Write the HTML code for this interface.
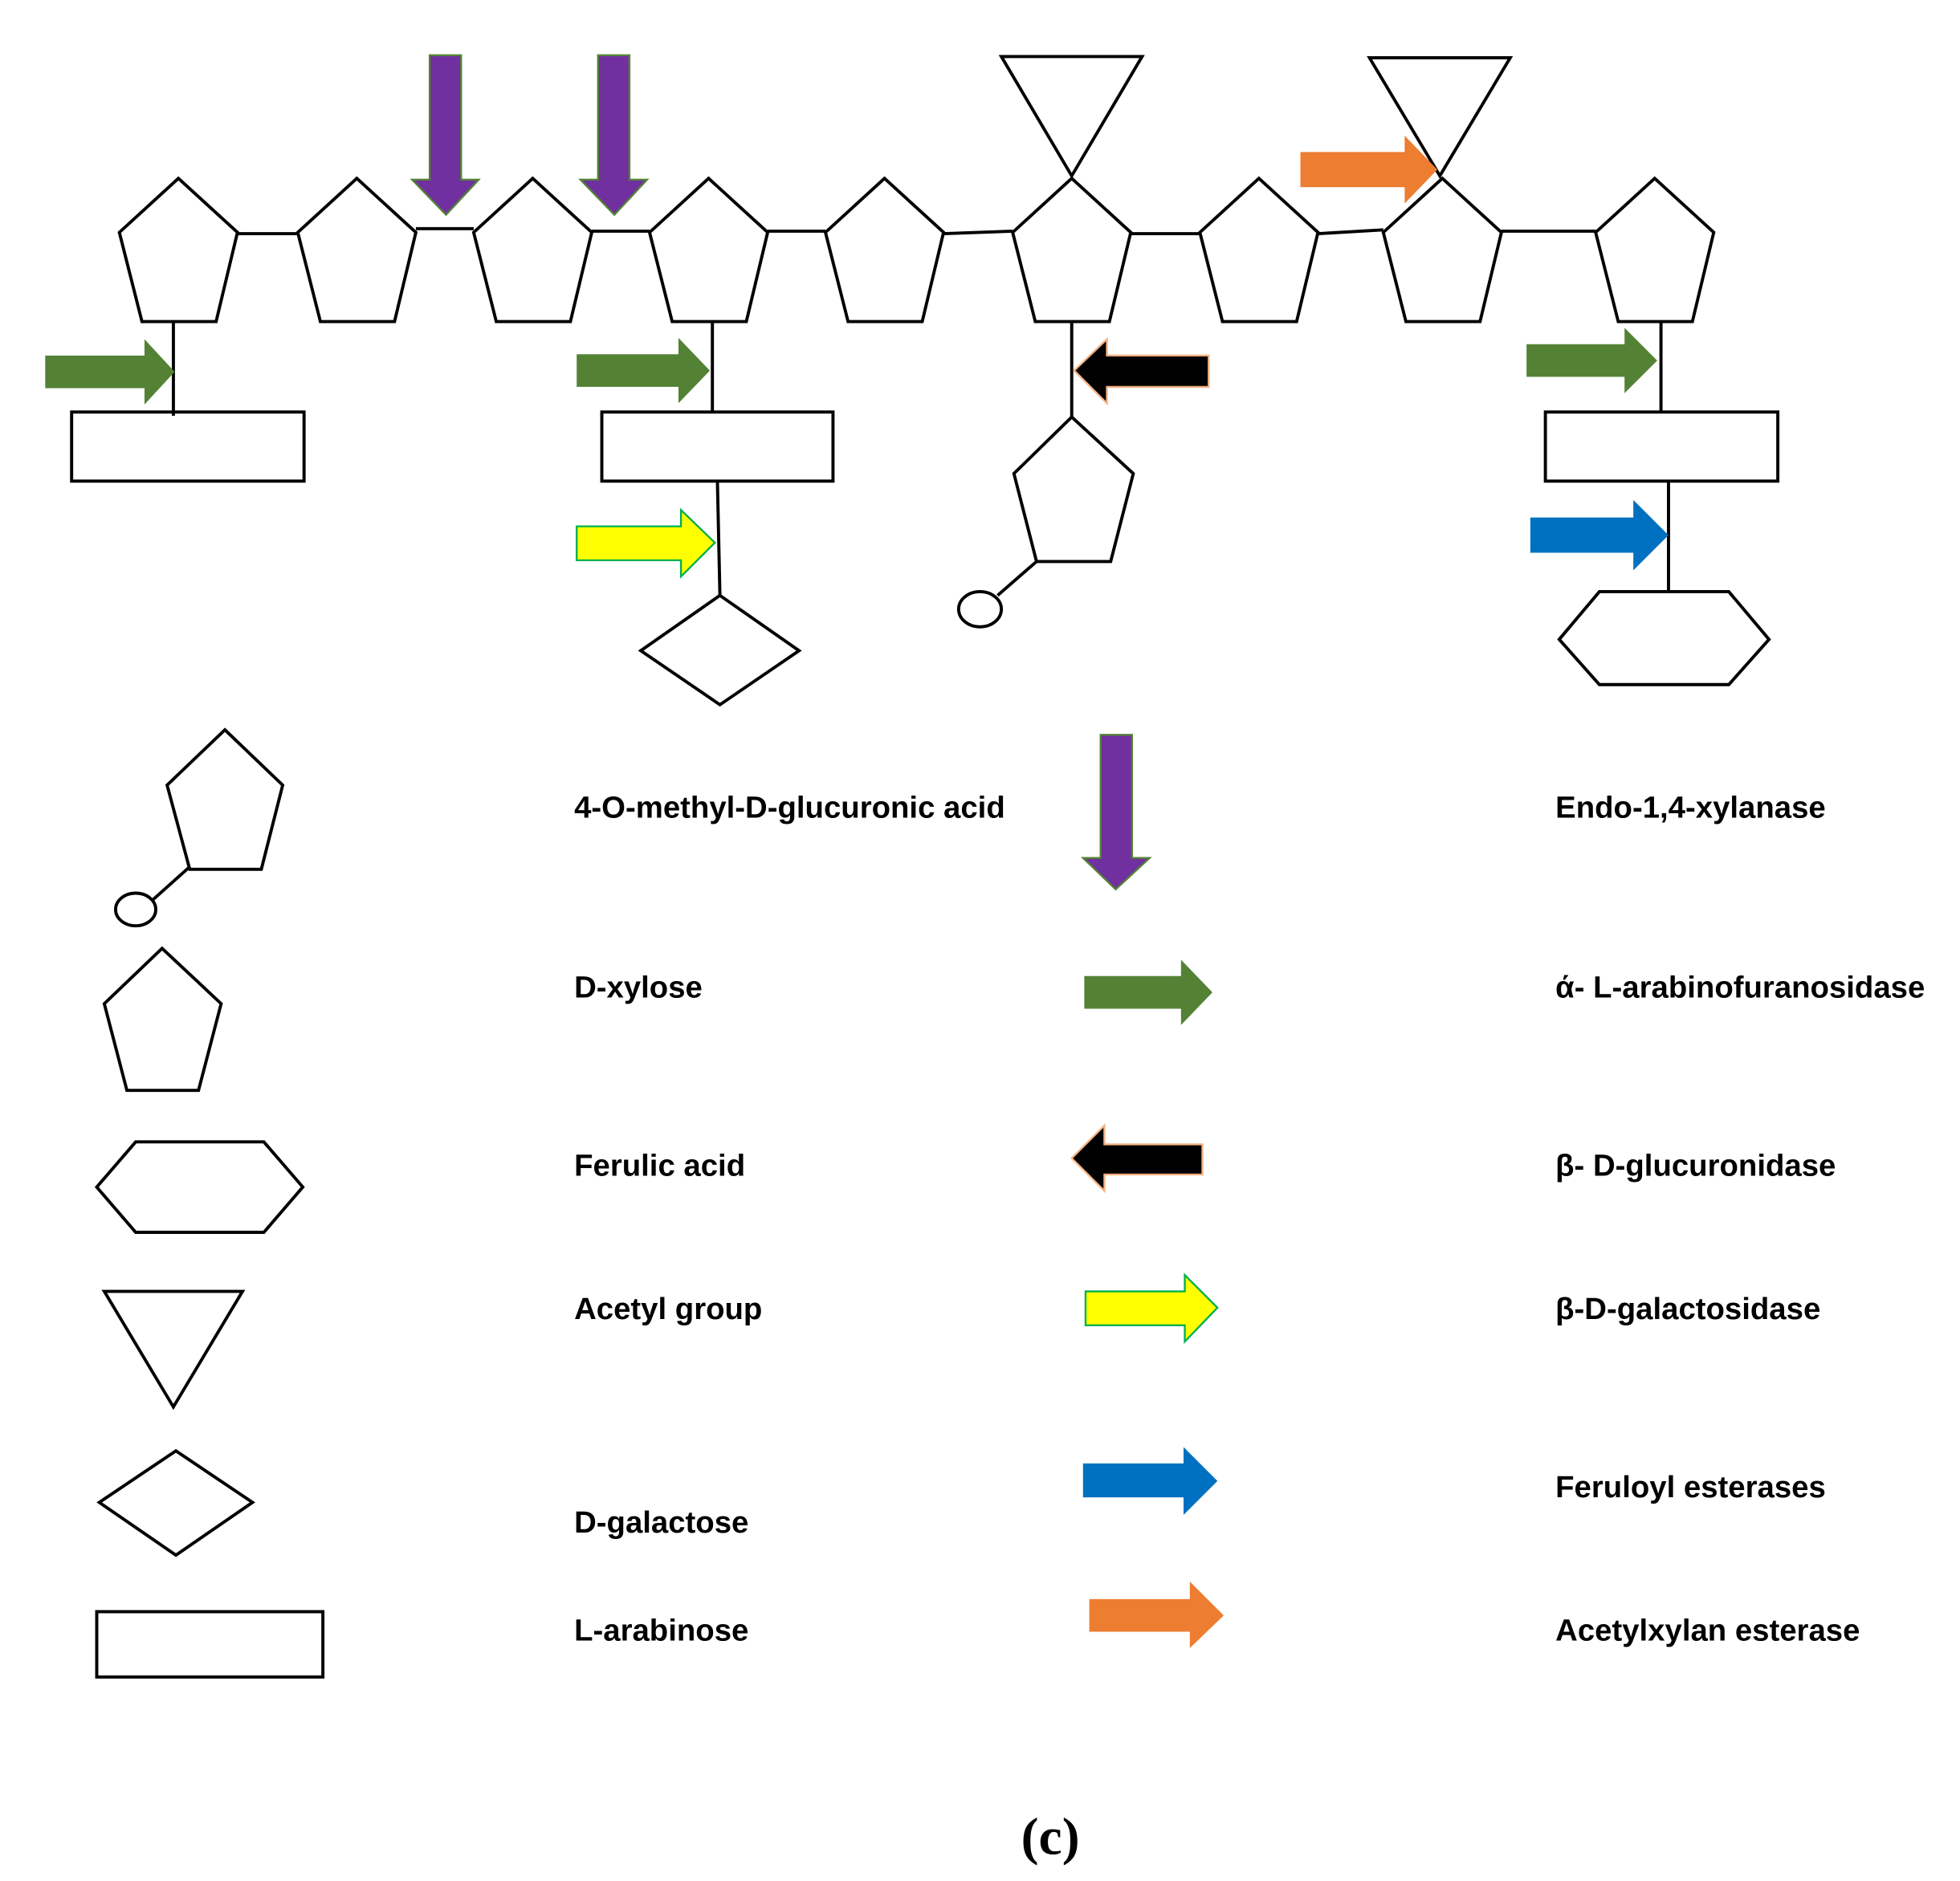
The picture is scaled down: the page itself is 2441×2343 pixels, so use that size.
<!DOCTYPE html>
<html><head><meta charset="utf-8"><style>html,body{margin:0;padding:0;background:#fff}svg{display:block}</style></head>
<body>
<svg width="2441" height="2343" viewBox="0 0 1560 1497.4" preserveAspectRatio="none" xmlns="http://www.w3.org/2000/svg">
<g fill="none" stroke="#000" stroke-width="2.5" stroke-linejoin="miter">
<polyline points="189,186 237,186"/>
<polyline points="331,182 377,182"/>
<polyline points="471,184 517,184"/>
<polyline points="611,184 657,184"/>
<polyline points="751,186 806,184"/>
<polyline points="900,186 955,186"/>
<polyline points="1049,186 1101,183"/>
<polyline points="1195,184 1270,184"/>
<polygon points="142,142 189,185 172,256 113,256 95,185"/>
<polygon points="284,142 331,185 314,256 255,256 237,185"/>
<polygon points="424,142 471,185 454,256 395,256 377,185"/>
<polygon points="564,142 611,185 594,256 535,256 517,185"/>
<polygon points="704,142 751,185 734,256 675,256 657,185"/>
<polygon points="853,142 900,185 883,256 824,256 806,185"/>
<polygon points="1002,142 1049,185 1032,256 973,256 955,185"/>
<polygon points="1148,142 1195,185 1178,256 1119,256 1101,185"/>
<polygon points="1317,142 1364,185 1347,256 1288,256 1270,185"/>
<polygon points="797,45 909,45 853,140"/>
<polygon points="1090,46 1202,46 1146,140"/>
<line x1="138" y1="256" x2="138" y2="331"/>
<line x1="567" y1="256" x2="567" y2="328"/>
<line x1="853" y1="256" x2="853" y2="332"/>
<line x1="1322" y1="256" x2="1322" y2="328"/>
<rect x="57" y="328" width="185" height="55"/>
<rect x="479" y="328" width="184" height="55"/>
<rect x="1230" y="328" width="185" height="55"/>
<line x1="571" y1="383" x2="573" y2="474"/>
<polygon points="573,474 636,518 573,561 510,518"/>
<polygon points="853,332 902,377 884,447 825,447 807,377"/>
<line x1="825" y1="447" x2="794" y2="474"/>
<ellipse cx="780" cy="485" rx="17" ry="14"/>
<line x1="1328" y1="383" x2="1328" y2="471"/>
<polygon points="1241,509 1273,471 1376,471 1408,509 1376,545 1273,545"/>
<polygon points="179,581 225,625 208,692 151,692 133,625"/>
<line x1="151" y1="690" x2="122" y2="716"/>
<ellipse cx="108" cy="724" rx="16" ry="13"/>
<polygon points="129,755 176,799 158,868 101,868 83,799"/>
<polygon points="77,945 108,909 210,909 241,945 210,981 108,981"/>
<polygon points="83,1028 193,1028 138,1120"/>
<polygon points="140,1155 201,1196 140,1238 79,1196"/>
<rect x="77" y="1283" width="180" height="52"/>
</g>
<g>
<polygon fill="#7030a0" stroke="#548235" stroke-width="1.5" points="342,44 367,44 367,143 381,143 355,171 328,143 342,143"/>
<polygon fill="#7030a0" stroke="#548235" stroke-width="1.5" points="476,44 501,44 501,143 515,143 489,171 462,143 476,143"/>
<polygon fill="#548235" points="36,283 115,283 115,270 139,296 115,322 115,309 36,309"/>
<polygon fill="#548235" points="459,282 540,282 540,269 565,295 540,321 540,308 459,308"/>
<polygon fill="#548235" points="1215,274 1293,274 1293,261 1319,287 1293,313 1293,300 1215,300"/>
<polygon fill="#000" stroke="#f4b183" stroke-width="1.5" points="855,295 881,270 881,283 962,283 962,308 881,308 881,321"/>
<polygon fill="#ffff00" stroke="#00b050" stroke-width="1.5" points="459,419 542,419 542,406 569,432 542,459 542,446 459,446"/>
<polygon fill="#0070c0" points="1218,412 1300,412 1300,398 1328,426 1300,454 1300,440 1218,440"/>
<polygon fill="#ed7d31" points="1035,121 1118,121 1118,108 1144,135 1118,162 1118,149 1035,149"/>
<polygon fill="#7030a0" stroke="#548235" stroke-width="1.5" points="876,585 901,585 901,683 915,683 888,708 862,683 876,683"/>
<polygon fill="#548235" points="863,777 940,777 940,764 965,790 940,816 940,803 863,803"/>
<polygon fill="#000" stroke="#f4b183" stroke-width="1.5" points="853,922 879,896 879,911 957,911 957,935 879,935 879,948"/>
<polygon fill="#ffff00" stroke="#00b050" stroke-width="1.5" points="864,1028 943,1028 943,1015 969,1041 943,1068 943,1055 864,1055"/>
<polygon fill="#0070c0" points="862,1165 942,1165 942,1152 969,1179 942,1206 942,1192 862,1192"/>
<polygon fill="#ed7d31" points="867,1273 947,1273 947,1259 974,1286 947,1312 947,1299 867,1299"/>
</g>
<g font-family="Liberation Sans, DejaVu Sans, sans-serif" font-weight="bold" font-size="24.5" fill="#000">
<text x="457" y="651">4-O-methyl-D-glucuronic acid</text>
<text x="457" y="794">D-xylose</text>
<text x="457" y="936">Ferulic acid</text>
<text x="457" y="1050">Acetyl group</text>
<text x="457" y="1220">D-galactose</text>
<text x="457" y="1306">L-arabinose</text>
<text x="1238" y="651">Endo-1,4-xylanase</text>
<text x="1238" y="794">ά- L-arabinofuranosidase</text>
<text x="1238" y="936">β- D-glucuronidase</text>
<text x="1238" y="1050">β-D-galactosidase</text>
<text x="1238" y="1192">Feruloyl esterases</text>
<text x="1238" y="1306">Acetylxylan esterase</text>
</g>
<text x="836" y="1476" text-anchor="middle" font-family="Liberation Serif, serif" font-weight="bold" font-size="42">(c)</text>
</svg>
</body></html>
